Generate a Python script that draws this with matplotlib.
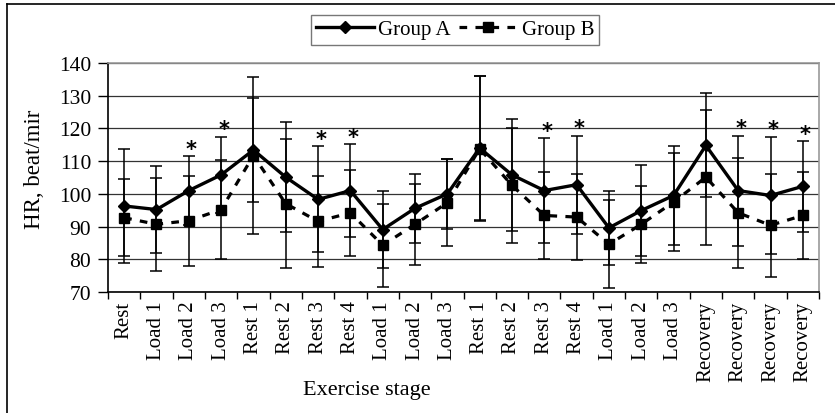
import matplotlib.pyplot as plt
import numpy as np
from matplotlib.lines import Line2D

plt.rcParams['font.family'] = ['Liberation Serif', 'DejaVu Serif']

stages = ["Rest", "Load 1", "Load 2", "Load 3", "Rest 1", "Rest 2", "Rest 3", "Rest 4",
          "Load 1", "Load 2", "Load 3", "Rest 1", "Rest 2", "Rest 3", "Rest 4",
          "Load 1", "Load 2", "Load 3", "Recovery", "Recovery", "Recovery", "Recovery"]

group_a = [96.3, 95.2, 101.0, 105.8, 113.4, 105.1, 98.3, 101.0, 89.1, 95.6, 100.0,
           114.0, 105.8, 101.0, 102.8, 89.6, 94.9, 99.5, 114.8, 101.0, 99.5, 102.3]
sd_a = [17.4, 13.3, 10.5, 11.7, 16.0, 16.8, 16.2, 14.3, 11.7, 10.5, 10.6,
        22.0, 17.1, 16.0, 15.0, 11.4, 14.0, 15.0, 15.9, 16.8, 18.0, 13.9]

group_b = [92.7, 90.7, 91.8, 95.2, 111.7, 97.0, 91.6, 94.2, 84.3, 90.7, 97.3,
           113.8, 102.6, 93.4, 92.9, 84.6, 90.7, 97.5, 105.1, 94.2, 90.4, 93.4]
sd_b = [11.7, 14.2, 13.8, 15.0, 24.0, 19.8, 14.0, 13.2, 12.7, 12.4, 13.3,
        22.2, 17.5, 13.2, 13.2, 13.4, 11.7, 15.0, 20.6, 16.8, 15.7, 13.2]

# stages with significant difference (marked with *)
signif = [2, 3, 6, 7, 13, 14, 19, 20, 21]

x = np.arange(len(stages))

fig = plt.figure(figsize=(8.35, 4.14), dpi=100)
ax = fig.add_axes([108/835, 1 - 293/414, (819 - 108)/835, (293 - 64)/414])

ax.errorbar(x, group_a, yerr=sd_a, fmt='none', ecolor='black', elinewidth=1.1,
            capsize=4, capthick=1.1, zorder=2)
ax.errorbar(x, group_b, yerr=sd_b, fmt='none', ecolor='black', elinewidth=1.1,
            capsize=4, capthick=1.1, zorder=2)
ax.plot(x, group_a, color='black', lw=2.4, marker='D', markersize=6, zorder=4)
ax.plot(x, group_b, color='black', lw=2.3, ls=(0, (2.4, 2.6)), marker='s',
        markersize=6.5, zorder=3)

for i in signif:
    ax.text(x[i] + 0.08, group_a[i] + sd_a[i] + 2.2, '*', ha='center', va='center',
            fontsize=15, fontweight='bold', fontfamily='DejaVu Sans')

ax.set_xlim(-0.5, len(stages) - 0.5)
ax.set_ylim(70, 140)
ax.set_yticks(range(70, 141, 10))
ax.tick_params(axis='y', direction='out', length=7, width=1, labelsize=15.5, pad=5)

ax.set_xticks(x)
ax.set_xticklabels(stages, rotation=90, fontsize=15)
ax.set_xticks(np.arange(-0.5, len(stages), 1), minor=True)
ax.tick_params(axis='x', which='major', length=0, pad=6)
ax.tick_params(axis='x', which='minor', direction='out', length=5, width=1)

ax.grid(axis='y', color='#333333', lw=0.9)
ax.set_axisbelow(True)
for side in ['top', 'right']:
    ax.spines[side].set_color('#999999')
    ax.spines[side].set_linewidth(1.2)
for side in ['left', 'bottom']:
    ax.spines[side].set_color('black')
    ax.spines[side].set_linewidth(1.2)

fig.text(35/835, 1 - 169/414, 'HR, beat/mir', rotation=90, ha='center', va='center',
         fontsize=16.5)
fig.text(367/835, 1 - 391/414, 'Exercise stage', ha='center', va='center', fontsize=16)

handles = [Line2D([], [], color='black', lw=2.4, marker='D', markersize=6),
           Line2D([], [], color='black', lw=2.3, ls=(0, (2.4, 2.6)), marker='s', markersize=6.5)]
leg = fig.legend(handles, ['Group A', 'Group B'], loc='center', bbox_to_anchor=(455/835, 1 - 30.5/414),
                 ncol=2, fontsize=15, frameon=True, fancybox=False, handlelength=2.8,
                 columnspacing=0.4, handletextpad=0.2, borderpad=0.25, borderaxespad=0)
leg.get_frame().set_edgecolor('#555555')
leg.get_frame().set_linewidth(1.0)

# outer frame lines (top and left)
fig.add_artist(Line2D([7/835, 1], [1 - 5/414, 1 - 5/414], color='black', lw=1.2,
                      transform=fig.transFigure))
fig.add_artist(Line2D([7/835, 7/835], [0, 1 - 5/414], color='black', lw=1.2,
                      transform=fig.transFigure))

fig.savefig('out.png', dpi=100)
